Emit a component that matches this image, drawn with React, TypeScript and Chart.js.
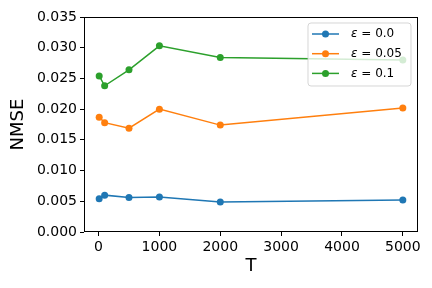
import React, { useEffect, useRef } from "react";
import { Chart, registerables } from "chart.js";

Chart.register(...registerables);

const T_VALUES = [10, 100, 500, 1000, 2000, 5000];
const NMSE_EPS_0 = [0.0054, 0.006, 0.0056, 0.0057, 0.0049, 0.0052];
const NMSE_EPS_005 = [0.0187, 0.0178, 0.0169, 0.02, 0.0174, 0.0202];
const NMSE_EPS_01 = [0.0254, 0.0238, 0.0264, 0.0303, 0.0284, 0.028];
const SERIES_NAMES = ["0.0", "0.05", "0.1"];
const SERIES_COLORS = ["#1f77b4", "#ff7f0e", "#2ca02c"];
const X_TICKS = [0, 1000, 2000, 3000, 4000, 5000];
const Y_TICKS = [0, 0.005, 0.01, 0.015, 0.02, 0.025, 0.03, 0.035];

const FONT = "'DejaVu Sans', sans-serif";

const framePlugin = {
  id: "frame",
  afterDatasetsDraw(chart: any) {
    const { ctx, chartArea } = chart;
    const l = Math.round(chartArea.left) + 0.5;
    const r = Math.round(chartArea.right) - 0.5;
    const t = Math.round(chartArea.top) + 0.5;
    const b = Math.round(chartArea.bottom) - 0.5;
    ctx.save();
    ctx.strokeStyle = "#000";
    ctx.lineWidth = 1;
    ctx.strokeRect(l, t, r - l, b - t);
    ctx.restore();
  },
};

const legendPlugin = {
  id: "mplLegend",
  afterDraw(chart: any) {
    const { ctx, chartArea } = chart;
    const boxW = 103;
    const boxH = 63;
    const x0 = chartArea.right - 7 - boxW;
    const y0 = chartArea.top + 6;
    ctx.save();
    // box
    const rad = 3;
    ctx.beginPath();
    ctx.moveTo(x0 + rad, y0);
    ctx.lineTo(x0 + boxW - rad, y0);
    ctx.quadraticCurveTo(x0 + boxW, y0, x0 + boxW, y0 + rad);
    ctx.lineTo(x0 + boxW, y0 + boxH - rad);
    ctx.quadraticCurveTo(x0 + boxW, y0 + boxH, x0 + boxW - rad, y0 + boxH);
    ctx.lineTo(x0 + rad, y0 + boxH);
    ctx.quadraticCurveTo(x0, y0 + boxH, x0, y0 + boxH - rad);
    ctx.lineTo(x0, y0 + rad);
    ctx.quadraticCurveTo(x0, y0, x0 + rad, y0);
    ctx.closePath();
    ctx.fillStyle = "rgba(255,255,255,0.8)";
    ctx.fill();
    ctx.strokeStyle = "rgba(204,204,204,0.8)";
    ctx.lineWidth = 1;
    ctx.stroke();

    chart.data.datasets.forEach((ds: any, i: number) => {
      const cy = y0 + 11 + i * 19.7;
      const lx = x0 + 4;
      ctx.strokeStyle = ds.borderColor;
      ctx.lineWidth = 1.5;
      ctx.beginPath();
      ctx.moveTo(lx, cy);
      ctx.lineTo(lx + 27, cy);
      ctx.stroke();
      ctx.fillStyle = ds.borderColor;
      ctx.beginPath();
      ctx.arc(lx + 13.5, cy, 3.5, 0, Math.PI * 2);
      ctx.fill();
      // text
      ctx.fillStyle = "#000";
      ctx.textBaseline = "middle";
      ctx.textAlign = "left";
      const tx = lx + 39;
      ctx.font = `oblique 12px ${FONT}`;
      ctx.fillText("ε", tx, cy);
      const w = ctx.measureText("ε").width;
      ctx.font = `12px ${FONT}`;
      ctx.fillText(" = " + SERIES_NAMES[i], tx + w, cy);
    });
    ctx.restore();
  },
};

export default function App() {
  const ref = useRef<HTMLCanvasElement | null>(null);
  useEffect(() => {
    document.body.style.margin = "0";
    const canvas = ref.current!;
    const seriesData = [NMSE_EPS_0, NMSE_EPS_005, NMSE_EPS_01];
    const chart = new Chart(canvas, {
      type: "line",
      data: {
        datasets: seriesData.map((vals, i) => ({
          label: "ε = " + SERIES_NAMES[i],
          data: T_VALUES.map((t, j) => ({ x: t, y: vals[j] })),
          borderColor: SERIES_COLORS[i],
          backgroundColor: SERIES_COLORS[i],
          borderWidth: 1.5,
          pointRadius: 3.5,
          pointHoverRadius: 3.5,
          pointBorderWidth: 0,
          tension: 0,
          fill: false,
        })),
      },
      options: {
        responsive: false,
        animation: false,
        events: [],
        layout: { padding: { top: 17, right: 14, left: 0, bottom: 0 } },
        plugins: { legend: { display: false }, tooltip: { enabled: false } },
        scales: {
          x: {
            type: "linear",
            min: -239.5,
            max: 5249.5,
            afterBuildTicks: (s: any) => {
              s.ticks = X_TICKS.map((v) => ({ value: v }));
            },
            afterFit: (s: any) => {
              s.height = 56;
            },
            ticks: {
              callback: (v: any) => String(v),
              color: "#000",
              font: { family: FONT, size: 14 },
              padding: 3,
              maxRotation: 0,
              autoSkip: false,
            },
            grid: {
              display: true,
              drawOnChartArea: false,
              drawTicks: true,
              tickLength: 4,
              tickColor: "#000",
              lineWidth: 1,
            },
            border: { display: false },
            title: {
              display: true,
              text: "T",
              color: "#000",
              font: { family: FONT, size: 18 },
              padding: { top: 0, bottom: 11 },
            },
          },
          y: {
            type: "linear",
            min: 0,
            max: 0.035,
            afterBuildTicks: (s: any) => {
              s.ticks = Y_TICKS.map((v) => ({ value: v }));
            },
            afterFit: (s: any) => {
              s.width = 84;
            },
            ticks: {
              callback: (v: any) => Number(v).toFixed(3),
              color: "#000",
              font: { family: FONT, size: 14 },
              padding: 3,
              autoSkip: false,
            },
            grid: {
              display: true,
              drawOnChartArea: false,
              drawTicks: true,
              tickLength: 4,
              tickColor: "#000",
              lineWidth: 1,
            },
            border: { display: false },
            title: {
              display: true,
              text: "NMSE",
              color: "#000",
              font: { family: FONT, size: 18 },
              padding: { top: 8, bottom: 0 },
            },
          },
        },
      },
      plugins: [framePlugin, legendPlugin],
    });
    return () => chart.destroy();
  }, []);
  return (
    <div style={{ width: 432, height: 288 }}>
      <canvas ref={ref} width={432} height={288} style={{ width: 432, height: 288, display: "block" }} />
    </div>
  );
}
